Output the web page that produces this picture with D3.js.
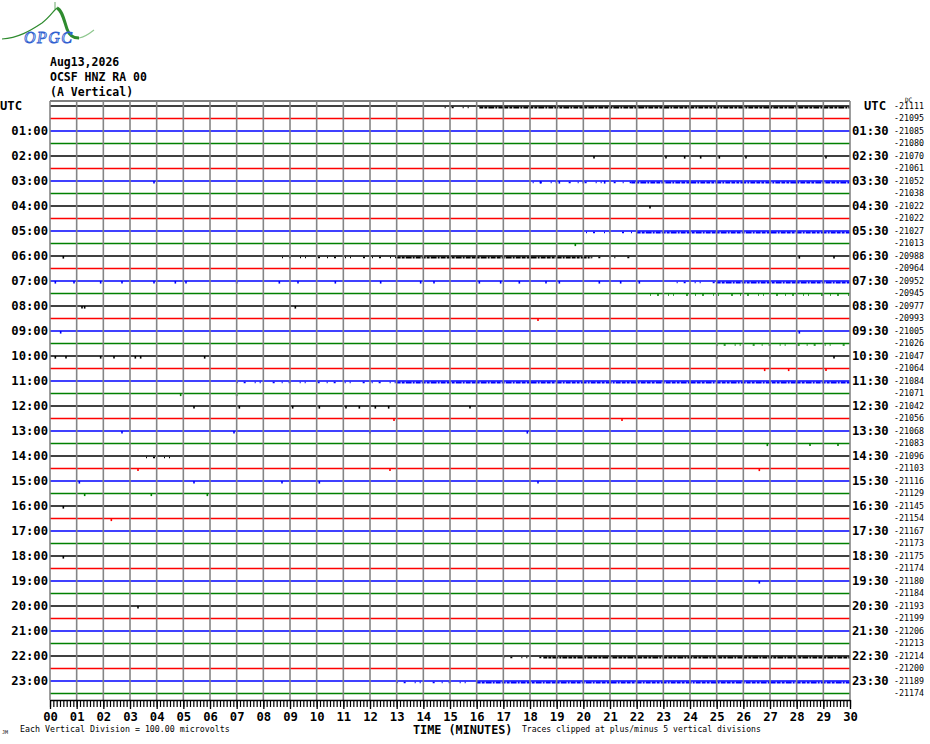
<!DOCTYPE html>
<html>
<head>
<meta charset="utf-8">
<title>OCSF HNZ RA 00</title>
<script src="https://cdn.jsdelivr.net/npm/d3@7"></script>
<style>
  body { margin: 0; background: #fff; }
  text { font-family: "DejaVu Sans Mono", monospace; }
</style>
</head>
<body>
<div id="main"></div>
<script>
// data
const headerLines = ['Aug13,2026', 'OCSF HNZ RA 00', '(A Vertical)'];
const hourLabels = ['00', '01', '02', '03', '04', '05', '06', '07', '08', '09', '10', '11',
  '12', '13', '14', '15', '16', '17', '18', '19', '20', '21', '22', '23'];
const minuteLabels = ['00', '01', '02', '03', '04', '05', '06', '07', '08', '09', '10',
  '11', '12', '13', '14', '15', '16', '17', '18', '19', '20',
  '21', '22', '23', '24', '25', '26', '27', '28', '29', '30'];
const traceColors = ['#000000', '#ff0000', '#0000ff', '#008000'];

// DC offset printed at the right of every half-hour trace
const dcValues = [
  -21111, -21095, -21085, -21080, -21070, -21061, -21052, -21038,
  -21022, -21022, -21027, -21013, -20988, -20964, -20952, -20945,
  -20977, -20993, -21005, -21026, -21047, -21064, -21084, -21071,
  -21042, -21056, -21068, -21083, -21096, -21103, -21116, -21129,
  -21145, -21154, -21167, -21173, -21175, -21174, -21180, -21184,
  -21193, -21199, -21206, -21213, -21214, -21200, -21189, -21174
];

// [trace, from minute, to minute, kind]
const noiseSegments = [
  [0, 14.8, 16.1, 'sparse'], [0, 16.1, 30, 'dense'],
  [6, 18.1, 21.8, 'sparse'], [6, 21.8, 30, 'dense'],
  [10, 20.1, 22.0, 'sparse'], [10, 22.0, 30, 'dense'],
  [12, 8.7, 13.0, 'sparse'], [12, 13.0, 20.3, 'dense'], [12, 20.3, 22.0, 'sparse'],
  [14, 23.5, 25.0, 'sparse'], [14, 25.0, 30, 'dense'],
  [15, 22.5, 30, 'sparse'],
  [19, 25.0, 30, 'sparse'],
  [22, 7.0, 13.0, 'sparse'], [22, 13.0, 30, 'dense'],
  [28, 3.6, 4.9, 'sparse'],
  [44, 17.0, 18.5, 'sparse'], [44, 18.5, 30, 'dense'],
  [46, 13.0, 16.0, 'sparse'], [46, 16.0, 30, 'dense']
];

// [trace, minute] isolated glitches
const spikes = [
  [4, 20.4], [4, 23.1], [4, 23.8], [4, 24.4], [4, 25.1], [4, 26.1], [4, 29.1],
  [6, 3.9], [6, 18.4], [6, 19.1], [6, 20.0], [6, 20.8],
  [8, 22.5], [11, 19.7],
  [12, 0.5], [12, 28.1], [12, 29.4],
  [14, 0.2], [14, 0.9], [14, 1.9], [14, 2.7], [14, 3.9], [14, 4.7], [14, 5.1],
  [14, 7.0], [14, 8.6], [14, 9.3], [14, 10.7], [14, 12.4], [14, 13.9], [14, 14.4],
  [14, 16.1], [14, 16.9], [14, 17.6], [14, 18.6], [14, 19.1], [14, 20.6], [14, 21.4], [14, 22.1],
  [16, 1.2], [16, 1.3], [16, 9.2], [17, 18.3], [18, 0.4], [18, 28.1],
  [20, 0.2], [20, 0.6], [20, 1.9], [20, 2.4], [20, 3.2], [20, 3.4], [20, 5.8],
  [20, 25.0], [20, 27.0], [20, 29.4],
  [21, 26.8], [21, 27.7], [21, 29.1],
  [23, 4.9], [23, 7.0],
  [24, 5.4], [24, 7.1], [24, 9.1], [24, 10.1], [24, 11.1], [24, 11.6], [24, 12.2], [24, 12.7], [24, 15.75],
  [25, 12.9], [25, 21.45],
  [26, 2.7], [26, 6.9], [26, 12.0], [26, 17.9],
  [27, 26.9], [27, 28.5], [27, 29.55],
  [29, 3.3], [29, 12.75], [29, 26.6],
  [30, 1.1], [30, 5.4], [30, 8.7], [30, 10.1], [30, 18.3],
  [31, 1.3], [31, 3.8], [31, 5.9],
  [32, 0.5], [33, 2.3], [36, 0.5], [38, 26.6], [40, 3.3]
];

!(function () {
  'use strict';

  let
    svg = undefined,
    xScale = undefined,
    yScale = undefined;

  const canvas = {
    width: 930,
    height: 744,
    plot: { left: 50, right: 850, top: 101, bottom: 700 },
    firstTrace: 106,
    lastTrace: 693.5
  };

  function setCanvas() {
    svg = d3.select('#main')
      .append('svg')
      .attr('width', canvas.width)
      .attr('height', canvas.height);
  }

  function setScales() {
    xScale = d3.scaleLinear()
      .domain([0, 30])
      .range([canvas.plot.left, canvas.plot.right]);
    yScale = d3.scaleLinear()
      .domain([0, dcValues.length - 1])
      .range([canvas.firstTrace, canvas.lastTrace]);
  }

  function drawLogo() {
    const g = svg.append('g').attr('class', 'logo');
    g.append('path')
      .attr('d', 'M2,39 C18,38 30,31 42,23 C50,17 54,10 57,8')
      .attr('fill', 'none').attr('stroke', '#2e8b2e').attr('stroke-width', 1.2);
    g.append('path')
      .attr('d', 'M57,8 C62,10 64,20 67,29 C69,35 72,38 79,38')
      .attr('fill', 'none').attr('stroke', '#2e8b2e').attr('stroke-width', 3);
    g.append('path')
      .attr('d', 'M79,38 C85,37 89,34 94,30')
      .attr('fill', 'none').attr('stroke', '#8fc88f').attr('stroke-width', 1.2);
    g.append('line')
      .attr('x1', 55).attr('x2', 55).attr('y1', 2).attr('y2', 9)
      .attr('stroke', '#6aa86a').attr('stroke-width', 1);
    g.append('text')
      .attr('x', 24).attr('y', 43)
      .style('font-family', '"Liberation Serif", serif')
      .style('font-style', 'italic')
      .style('font-size', '16px')
      .attr('fill', '#ffffff')
      .attr('stroke', '#2f5fd0')
      .attr('stroke-width', 0.9)
      .attr('textLength', 48)
      .text('OPGC');
  }

  function drawHeader() {
    svg.append('g')
      .selectAll('text')
      .data(headerLines)
      .enter()
      .append('text')
      .attr('x', 50)
      .attr('y', (d, i) => 65.5 + i * 15)
      .style('font-size', '11.5px')
      .style('font-weight', 'bold')
      .text(d => d);
  }

  function drawTraces() {
    const g = svg.append('g').attr('class', 'traces');
    g.selectAll('line.trace')
      .data(dcValues)
      .enter()
      .append('line')
      .attr('class', 'trace')
      .attr('x1', xScale(0)).attr('x2', xScale(30))
      .attr('y1', (d, i) => yScale(i)).attr('y2', (d, i) => yScale(i))
      .attr('stroke', (d, i) => traceColors[i % 4])
      .attr('stroke-width', 1.3);

    // noise shows as a ragged fringe just under the trace
    g.selectAll('line.noise')
      .data(noiseSegments)
      .enter()
      .append('line')
      .attr('class', 'noise')
      .attr('x1', d => xScale(d[1])).attr('x2', d => xScale(d[2]))
      .attr('y1', d => yScale(d[0]) + 1.5).attr('y2', d => yScale(d[0]) + 1.5)
      .attr('stroke', d => traceColors[d[0] % 4])
      .attr('stroke-width', d => d[3] === 'dense' ? 2 : 1.6)
      .attr('stroke-dasharray', d => d[3] === 'dense'
        ? '4,1,3,1,6,1,2,1,5,1'
        : '1,6,2,9,1,4,1,12,2,7');

    g.selectAll('line.spike')
      .data(spikes)
      .enter()
      .append('line')
      .attr('class', 'spike')
      .attr('x1', d => xScale(d[1])).attr('x2', d => xScale(d[1]))
      .attr('y1', d => yScale(d[0])).attr('y2', d => yScale(d[0]) + 2.6)
      .attr('stroke', d => traceColors[d[0] % 4])
      .attr('stroke-width', 1.6);
  }

  function drawGrid() {
    const g = svg.append('g').attr('class', 'grid');
    g.append('line')
      .attr('x1', canvas.plot.left).attr('x2', canvas.plot.right)
      .attr('y1', canvas.plot.top).attr('y2', canvas.plot.top)
      .attr('stroke', '#000').attr('stroke-width', 1.2);
    g.selectAll('line.v')
      .data(minuteLabels)
      .enter()
      .append('line')
      .attr('class', 'v')
      .attr('x1', (d, i) => xScale(i)).attr('x2', (d, i) => xScale(i))
      .attr('y1', canvas.plot.top).attr('y2', canvas.plot.bottom)
      .attr('stroke', '#858585').attr('stroke-width', 1.6);
  }

  function drawLabels() {
    const g = svg.append('g').attr('class', 'labels')
      .style('font-size', '12.2px')
      .style('font-weight', 'bold');

    // left: hour of the trace start, right: the following half hour
    g.selectAll('text.left')
      .data(hourLabels)
      .enter()
      .append('text')
      .attr('class', 'left')
      .attr('x', (d, i) => i === 0 ? 0 : 48)
      .attr('y', (d, i) => yScale(i * 2))
      .attr('dy', '0.36em')
      .attr('text-anchor', (d, i) => i === 0 ? 'start' : 'end')
      .text((d, i) => i === 0 ? 'UTC' : d + ':00');

    g.selectAll('text.right')
      .data(hourLabels)
      .enter()
      .append('text')
      .attr('class', 'right')
      .attr('x', (d, i) => i === 0 ? 886 : 852)
      .attr('y', (d, i) => yScale(i * 2))
      .attr('dy', '0.36em')
      .attr('text-anchor', (d, i) => i === 0 ? 'end' : 'start')
      .text((d, i) => i === 0 ? 'UTC' : d + ':30');

    const dc = svg.append('g').attr('class', 'dc')
      .style('font-size', '8.3px');
    dc.selectAll('text')
      .data(dcValues)
      .enter()
      .append('text')
      .attr('x', 894)
      .attr('y', (d, i) => yScale(i))
      .attr('dy', '0.35em')
      .text(d => String(d));
    dc.append('text')
      .attr('x', 905).attr('y', 101.5)
      .style('font-size', '6px')
      .text('DC');
  }

  function drawXAxis() {
    const minor = [];
    for (let m = 0; m <= 30 * 8; m++) { minor.push(m / 8); }

    svg.append('g')
      .attr('class', 'axis-minor')
      .attr('transform', 'translate(0,' + canvas.plot.bottom + ')')
      .call(d3.axisBottom(xScale)
        .tickValues(minor)
        .tickSize(7)
        .tickSizeOuter(0)
        .tickFormat(''))
      .call(g => g.selectAll('line').attr('stroke', '#000').attr('stroke-width', 1.2))
      .call(g => g.select('.domain').attr('stroke', '#000').attr('stroke-width', 1.5));

    svg.append('g')
      .attr('class', 'axis-major')
      .attr('transform', 'translate(0,' + canvas.plot.bottom + ')')
      .call(d3.axisBottom(xScale)
        .tickValues(minuteLabels.map((d, i) => i))
        .tickSize(9)
        .tickSizeOuter(0)
        .tickPadding(3.5)
        .tickFormat(i => minuteLabels[i]))
      .call(g => g.select('.domain').remove())
      .call(g => g.selectAll('line').attr('stroke', '#000').attr('stroke-width', 1.3))
      .call(g => g.selectAll('text')
        .attr('fill', '#000')
        .style('font-family', '"DejaVu Sans Mono", monospace')
        .style('font-size', '12.2px')
        .style('font-weight', 'bold'));
  }

  function drawFooter() {
    svg.append('text')
      .attr('x', 413).attr('y', 734)
      .style('font-size', '11.8px')
      .style('font-weight', 'bold')
      .text('TIME (MINUTES)');
    svg.append('text')
      .attr('x', 20).attr('y', 732)
      .style('font-size', '8.3px')
      .text('Each Vertical Division =  100.00 microvolts');
    svg.append('text')
      .attr('x', 522).attr('y', 732)
      .style('font-size', '8.1px')
      .text('Traces clipped at plus/minus 5 vertical divisions');
    svg.append('text')
      .attr('x', 2).attr('y', 734)
      .style('font-size', '5px')
      .text('JM');
  }

  // control
  setCanvas();
  setScales();
  drawLogo();
  drawHeader();
  drawTraces();
  drawGrid();
  drawLabels();
  drawXAxis();
  drawFooter();
}());
</script>
</body>
</html>
